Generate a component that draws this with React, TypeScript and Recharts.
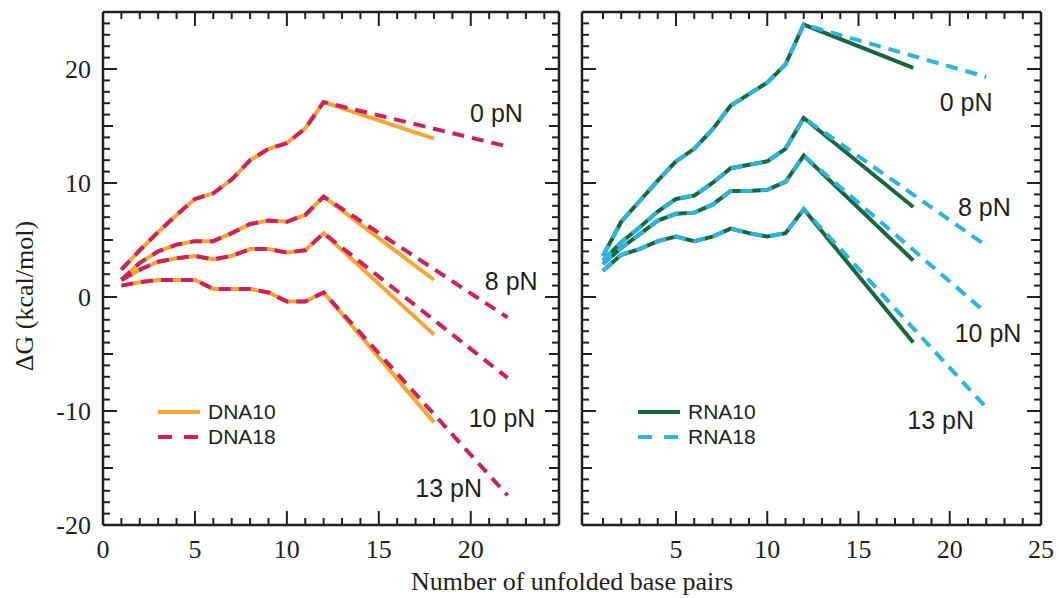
import { Line, LineChart, ReferenceDot, XAxis, YAxis } from 'recharts'

// number of unfolded base pairs
const pairs10 = [1, 2, 3, 4, 5, 6, 7, 8, 9, 10, 11, 12, 18]
const pairs18 = [1, 2, 3, 4, 5, 6, 7, 8, 9, 10, 11, 12, 22]

// DNA, ΔG in kcal/mol
const dna10_0 = [2.4, 4.1, 5.7, 7.2, 8.6, 9.1, 10.3, 12.0, 13.0, 13.5, 14.8, 17.1, 13.9]
const dna18_0 = [2.4, 4.1, 5.7, 7.2, 8.6, 9.1, 10.3, 12.0, 13.0, 13.5, 14.8, 17.1, 13.2]
const dna10_8 = [1.5, 3.0, 4.0, 4.6, 4.9, 4.9, 5.6, 6.4, 6.7, 6.6, 7.2, 8.8, 1.5]
const dna18_8 = [1.5, 3.0, 4.0, 4.6, 4.9, 4.9, 5.6, 6.4, 6.7, 6.6, 7.2, 8.8, -1.8]
const dna10_10 = [1.5, 2.4, 3.1, 3.4, 3.6, 3.3, 3.6, 4.2, 4.2, 3.9, 4.1, 5.6, -3.3]
const dna18_10 = [1.5, 2.4, 3.1, 3.4, 3.6, 3.3, 3.6, 4.2, 4.2, 3.9, 4.1, 5.6, -7.1]
const dna10_13 = [1.0, 1.3, 1.5, 1.5, 1.5, 0.7, 0.7, 0.7, 0.4, -0.4, -0.4, 0.4, -11.0]
const dna18_13 = [1.0, 1.3, 1.5, 1.5, 1.5, 0.7, 0.7, 0.7, 0.4, -0.4, -0.4, 0.4, -17.4]

// RNA
const rna10_0 = [3.6, 6.6, 8.4, 10.2, 11.9, 13.0, 14.7, 16.8, 17.8, 18.8, 20.4, 23.9, 20.1]
const rna18_0 = [3.6, 6.6, 8.4, 10.2, 11.9, 13.0, 14.7, 16.8, 17.8, 18.8, 20.4, 23.9, 19.3]
const rna10_8 = [3.2, 4.8, 6.1, 7.5, 8.6, 8.9, 10.0, 11.3, 11.6, 11.9, 13.0, 15.7, 7.9]
const rna18_8 = [3.2, 4.8, 6.1, 7.5, 8.6, 8.9, 10.0, 11.3, 11.6, 11.9, 13.0, 15.7, 4.5]
const rna10_10 = [2.9, 4.3, 5.5, 6.7, 7.3, 7.4, 8.1, 9.3, 9.3, 9.4, 10.1, 12.4, 3.2]
const rna18_10 = [2.9, 4.3, 5.5, 6.7, 7.3, 7.4, 8.1, 9.3, 9.3, 9.4, 10.1, 12.4, -1.4]
const rna10_13 = [2.3, 3.7, 4.2, 4.9, 5.3, 4.9, 5.3, 6.0, 5.6, 5.3, 5.6, 7.7, -4.0]
const rna18_13 = [2.3, 3.7, 4.2, 4.9, 5.3, 4.9, 5.3, 6.0, 5.6, 5.3, 5.6, 7.7, -9.7]

// ticks
const leftXTicks = [0, 1, 2, 3, 4, 5, 6, 7, 8, 9, 10, 11, 12, 13, 14, 15, 16, 17, 18, 19, 20, 21, 22, 23, 24]
const rightXTicks = [1, 2, 3, 4, 5, 6, 7, 8, 9, 10, 11, 12, 13, 14, 15, 16, 17, 18, 19, 20, 21, 22, 23, 24, 25]
const leftXLabels = [0, 5, 10, 15, 20]
const rightXLabels = [5, 10, 15, 20, 25]
const yTicks = [
  -20, -19, -18, -17, -16, -15, -14, -13, -12, -11, -10, -9, -8, -7, -6, -5, -4, -3, -2, -1,
  0, 1, 2, 3, 4, 5, 6, 7, 8, 9, 10, 11, 12, 13, 14, 15, 16, 17, 18, 19, 20, 21, 22, 23, 24, 25,
]
const yLabels = [-20, -10, 0, 10, 20]

// force annotations (label anchor in data units)
const forceLabels = ['0 pN', '8 pN', '10 pN', '13 pN']
const dnaLabelX = [21.4, 22.2, 21.7, 18.8]
const dnaLabelY = [16.1, 1.4, -10.6, -16.8]
const rnaLabelX = [20.9, 21.9, 22.1, 19.5]
const rnaLabelY = [17.1, 7.9, -3.2, -10.8]

const ORANGE = '#f6a630'
const CRIMSON = '#d01f5c'
const GREEN = '#17683a'
const CYAN = '#2ab4e6'
const INK = '#231f20'
const SERIF = '"Liberation Serif", "Times New Roman", serif'
const SANS = '"Liberation Sans", Arial, sans-serif'
const DASH = '12 8'

const pts = (xs: number[], ys: number[]) => xs.map((x, i) => ({ x, y: ys[i] }))

type Series = { id: string; data: { x: number; y: number }[]; color: string; dashed: boolean }

const dnaSeries: Series[] = [
  { id: 'd10-0', data: pts(pairs10, dna10_0), color: ORANGE, dashed: false },
  { id: 'd10-8', data: pts(pairs10, dna10_8), color: ORANGE, dashed: false },
  { id: 'd10-10', data: pts(pairs10, dna10_10), color: ORANGE, dashed: false },
  { id: 'd10-13', data: pts(pairs10, dna10_13), color: ORANGE, dashed: false },
  { id: 'd18-0', data: pts(pairs18, dna18_0), color: CRIMSON, dashed: true },
  { id: 'd18-8', data: pts(pairs18, dna18_8), color: CRIMSON, dashed: true },
  { id: 'd18-10', data: pts(pairs18, dna18_10), color: CRIMSON, dashed: true },
  { id: 'd18-13', data: pts(pairs18, dna18_13), color: CRIMSON, dashed: true },
]

const rnaSeries: Series[] = [
  { id: 'r10-0', data: pts(pairs10, rna10_0), color: GREEN, dashed: false },
  { id: 'r10-8', data: pts(pairs10, rna10_8), color: GREEN, dashed: false },
  { id: 'r10-10', data: pts(pairs10, rna10_10), color: GREEN, dashed: false },
  { id: 'r10-13', data: pts(pairs10, rna10_13), color: GREEN, dashed: false },
  { id: 'r18-0', data: pts(pairs18, rna18_0), color: CYAN, dashed: true },
  { id: 'r18-8', data: pts(pairs18, rna18_8), color: CYAN, dashed: true },
  { id: 'r18-10', data: pts(pairs18, rna18_10), color: CYAN, dashed: true },
  { id: 'r18-13', data: pts(pairs18, rna18_13), color: CYAN, dashed: true },
]

const xLen = (v: number) => (v % 5 === 0 ? 14 : 7)
const yLen = (v: number) => (v % 10 === 0 ? 14 : v % 5 === 0 ? 10 : 7)

// ticks point inward, labels sit outside
function BottomTick(props: any) {
  const { x, y, payload, labels } = props
  const v = payload.value as number
  return (
    <g>
      <line x1={x} x2={x} y1={y} y2={y - xLen(v)} stroke={INK} strokeWidth={2} />
      {labels.includes(v) && (
        <text x={x} y={y + 33} textAnchor="middle" fontFamily={SERIF} fontSize={26} fill={INK}>
          {v}
        </text>
      )}
    </g>
  )
}

function TopTick({ x, y, payload }: any) {
  return <line x1={x} x2={x} y1={y} y2={y + xLen(payload.value)} stroke={INK} strokeWidth={2} />
}

function LeftTick(props: any) {
  const { x, y, payload, labels } = props
  const v = payload.value as number
  return (
    <g>
      <line x1={x} x2={x + yLen(v)} y1={y} y2={y} stroke={INK} strokeWidth={2} />
      {labels.includes(v) && (
        <text x={x - 12} y={y} dy="0.35em" textAnchor="end" fontFamily={SERIF} fontSize={26} fill={INK}>
          {v}
        </text>
      )}
    </g>
  )
}

function RightTick({ x, y, payload }: any) {
  return <line x1={x} x2={x - yLen(payload.value)} y1={y} y2={y} stroke={INK} strokeWidth={2} />
}

function Panel({
  width,
  margin,
  xDomain,
  xTicks,
  xLabels,
  showY,
  series,
  labelX,
  labelY,
}: {
  width: number
  margin: { top: number; right: number; bottom: number; left: number }
  xDomain: [number, number]
  xTicks: number[]
  xLabels: number[]
  showY: boolean
  series: Series[]
  labelX: number[]
  labelY: number[]
}) {
  const axisLine = { stroke: INK, strokeWidth: 2.5 }
  // axes are 1px thick: recharts skips axes of zero size
  return (
    <LineChart width={width} height={598} margin={margin}>
      <XAxis
        xAxisId="b"
        dataKey="x"
        type="number"
        domain={xDomain}
        allowDataOverflow
        ticks={xTicks}
        interval={0}
        height={1}
        tickSize={0}
        tickMargin={0}
        tickLine={false}
        axisLine={axisLine}
        tick={(p: any) => <BottomTick {...p} labels={xLabels} />}
      />
      <XAxis
        xAxisId="t"
        orientation="top"
        dataKey="x"
        type="number"
        domain={xDomain}
        allowDataOverflow
        ticks={xTicks}
        interval={0}
        height={1}
        tickSize={0}
        tickMargin={0}
        tickLine={false}
        axisLine={axisLine}
        tick={(p: any) => <TopTick {...p} />}
      />
      <YAxis
        yAxisId="l"
        type="number"
        domain={[-20, 25]}
        allowDataOverflow
        ticks={yTicks}
        interval={0}
        width={1}
        tickSize={0}
        tickMargin={0}
        tickLine={false}
        axisLine={axisLine}
        tick={(p: any) => <LeftTick {...p} labels={showY ? yLabels : []} />}
      />
      <YAxis
        yAxisId="r"
        orientation="right"
        type="number"
        domain={[-20, 25]}
        allowDataOverflow
        ticks={yTicks}
        interval={0}
        width={1}
        tickSize={0}
        tickMargin={0}
        tickLine={false}
        axisLine={axisLine}
        tick={(p: any) => <RightTick {...p} />}
      />
      {series.map((s) => (
        <Line
          key={s.id}
          data={s.data}
          dataKey="y"
          xAxisId="b"
          yAxisId="l"
          type="linear"
          stroke={s.color}
          strokeWidth={4}
          strokeDasharray={s.dashed ? DASH : undefined}
          dot={false}
          activeDot={false}
          isAnimationActive={false}
        />
      ))}
      {forceLabels.map((t, i) => (
        <ReferenceDot
          key={t}
          xAxisId="b"
          yAxisId="l"
          x={labelX[i]}
          y={labelY[i]}
          r={0}
          fill="none"
          stroke="none"
          label={{ value: t, position: 'center', fontSize: 25, fill: INK, fontFamily: SANS }}
        />
      ))}
    </LineChart>
  )
}

function LegendBox({ left, top, items }: { left: number; top: number; items: { name: string; color: string; dashed: boolean }[] }) {
  return (
    <svg width={140} height={56} style={{ position: 'absolute', left, top }}>
      {items.map((it, i) => (
        <g key={it.name}>
          <line
            x1={2}
            x2={44}
            y1={14 + i * 25}
            y2={14 + i * 25}
            stroke={it.color}
            strokeWidth={4}
            strokeDasharray={it.dashed ? '14 12' : undefined}
          />
          <text x={52} y={14 + i * 25} dy="0.35em" fontFamily={SANS} fontSize={21} fill={INK}>
            {it.name}
          </text>
        </g>
      ))}
    </svg>
  )
}

export default function App() {
  return (
    <div style={{ position: 'absolute', left: 0, top: 0, width: 1059, height: 598, background: '#fff' }}>
      <div style={{ position: 'absolute', left: 0, top: 0 }}>
        <Panel
          width={570}
          margin={{ top: 11, right: 10, bottom: 72, left: 102 }}
          xDomain={[0, 24.8]}
          xTicks={leftXTicks}
          xLabels={leftXLabels}
          showY
          series={dnaSeries}
          labelX={dnaLabelX}
          labelY={dnaLabelY}
        />
      </div>
      <div style={{ position: 'absolute', left: 570, top: 0 }}>
        <Panel
          width={489}
          margin={{ top: 11, right: 17, bottom: 72, left: 11 }}
          xDomain={[-0.15, 25]}
          xTicks={rightXTicks}
          xLabels={rightXLabels}
          showY={false}
          series={rnaSeries}
          labelX={rnaLabelX}
          labelY={rnaLabelY}
        />
      </div>
      <LegendBox
        left={156}
        top={398}
        items={[
          { name: 'DNA10', color: ORANGE, dashed: false },
          { name: 'DNA18', color: CRIMSON, dashed: true },
        ]}
      />
      <LegendBox
        left={636}
        top={398}
        items={[
          { name: 'RNA10', color: GREEN, dashed: false },
          { name: 'RNA18', color: CYAN, dashed: true },
        ]}
      />
      <div
        style={{
          position: 'absolute',
          left: 25,
          top: 296,
          transform: 'translate(-50%, -50%) rotate(-90deg)',
          whiteSpace: 'nowrap',
          fontFamily: SERIF,
          fontSize: 26,
          color: INK,
          lineHeight: 1,
        }}
      >
        ΔG (kcal/mol)
      </div>
      <div
        style={{
          position: 'absolute',
          left: 572,
          top: 582,
          transform: 'translate(-50%, -50%)',
          whiteSpace: 'nowrap',
          fontFamily: SERIF,
          fontSize: 26,
          color: INK,
          lineHeight: 1,
        }}
      >
        Number of unfolded base pairs
      </div>
    </div>
  )
}
